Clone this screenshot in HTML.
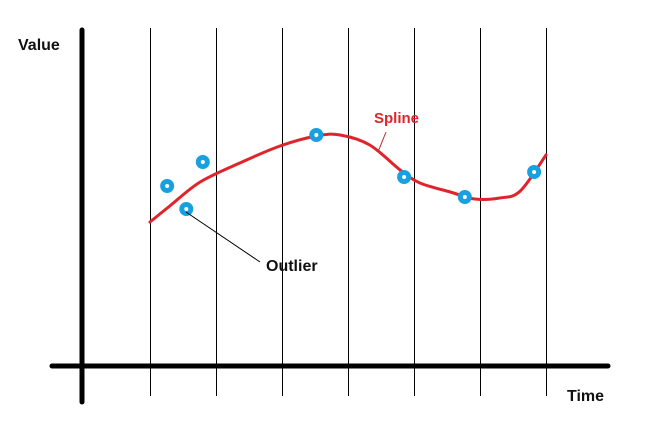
<!DOCTYPE html>
<html><head><meta charset="utf-8"><style>
html,body{margin:0;padding:0;background:#fff;width:652px;height:424px;overflow:hidden}
text{font-family:"Liberation Sans",sans-serif;font-weight:bold}
</style></head><body>
<svg id="chart" width="652" height="424" viewBox="0 0 652 424" xmlns="http://www.w3.org/2000/svg">
<g id="grid"></g>
<line x1="52" y1="366" x2="608" y2="366" stroke="#000" stroke-width="5" stroke-linecap="round"/>
<line x1="82" y1="30" x2="82" y2="402" stroke="#000" stroke-width="5" stroke-linecap="round"/>
<text x="18" y="50" font-size="16" fill="#111">Value</text>
<text x="567" y="401" font-size="16" fill="#111">Time</text>
<path id="spline" fill="none" stroke="#e0242b" stroke-width="3" stroke-linecap="round"/>
<g id="points"></g>
<line x1="386" y1="132" x2="378" y2="152" stroke="#c0282b" stroke-width="1"/>
<text x="374" y="123" font-size="15" fill="#e0242b">Spline</text>
<line x1="186" y1="212" x2="260" y2="262" stroke="#000" stroke-width="1"/>
<text x="266" y="271" font-size="16" fill="#111">Outlier</text>
</svg>
<script>
const gridTimes = [1,2,3,4,5,6,7];
const pointTimes = [1.26,1.55,1.80,3.52,4.85,5.77,6.82];
const pointValues = [18.0,15.7,20.4,23.1,18.9,16.9,19.4];
const splineTimes = [1,1.3,1.76,2.36,2.97,3.52,3.88,4.33,4.79,5.09,5.55,5.92,6.30,6.61,7.0];
const splineValues = [14.4,16.0,18.4,20.3,22.0,23.0,23.1,22.1,19.6,18.3,17.4,16.7,16.8,17.5,21.1];
const NS='http://www.w3.org/2000/svg';
function xS(t){return 150+(t-1)*66;}
function yS(v){return 366-v*10;}
const grid=document.getElementById('grid');
gridTimes.forEach(t=>{
  const l=document.createElementNS(NS,'line');
  
  
  l.setAttribute('x1',xS(t)+0.5);l.setAttribute('x2',xS(t)+0.5);
  l.setAttribute('y1',28);l.setAttribute('y2',396);
  l.setAttribute('stroke','#000');l.setAttribute('stroke-width','1');
  grid.appendChild(l);
});
const P=splineTimes.map((t,i)=>[xS(t),yS(splineValues[i])]);
let d='M'+P[0][0]+','+P[0][1];
for(let i=0;i<P.length-1;i++){
  const p0=P[Math.max(i-1,0)],p1=P[i],p2=P[i+1],p3=P[Math.min(i+2,P.length-1)];
  const c1=[p1[0]+(p2[0]-p0[0])/6,p1[1]+(p2[1]-p0[1])/6];
  const c2=[p2[0]-(p3[0]-p1[0])/6,p2[1]-(p3[1]-p1[1])/6];
  d+=' C'+c1+' '+c2+' '+p2;
}
document.getElementById('spline').setAttribute('d',d);
const pts=document.getElementById('points');
pointTimes.forEach((t,i)=>{
  const c=document.createElementNS(NS,'circle');
  
  
  c.setAttribute('cx',xS(t));c.setAttribute('cy',yS(pointValues[i]));
  c.setAttribute('r','4.5');c.setAttribute('fill','#fff');
  c.setAttribute('stroke','#18a0e0');c.setAttribute('stroke-width','5');
  pts.appendChild(c);
});
</script>
</body></html>
